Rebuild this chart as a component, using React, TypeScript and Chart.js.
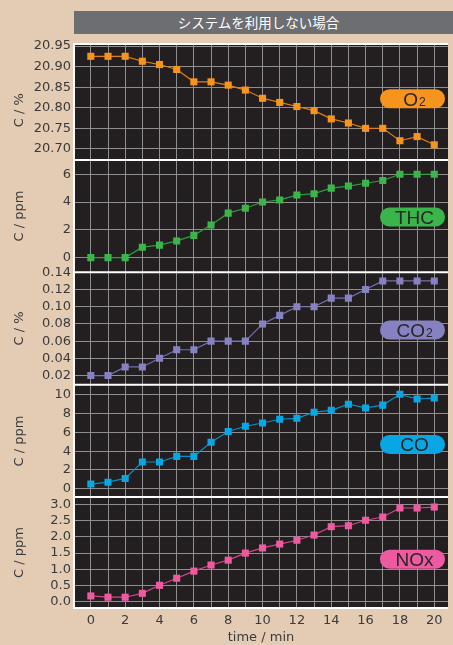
import React, { useEffect, useRef } from 'react';
import { Chart, registerables } from 'chart.js';

Chart.register(...registerables);

// Sampling times (min)
const minutes = [0, 1, 2, 3, 4, 5, 6, 7, 8, 9, 10, 11, 12, 13, 14, 15, 16, 17, 18, 19, 20];

// Measured concentrations
const o2Values = [20.925, 20.925, 20.925, 20.913, 20.905, 20.893, 20.863, 20.863, 20.855, 20.843, 20.823, 20.813, 20.803, 20.793, 20.773, 20.763, 20.75, 20.75, 20.72, 20.73, 20.71];
const thcValues = [0, 0, 0, 0.75, 0.9, 1.2, 1.6, 2.35, 3.2, 3.55, 4.0, 4.15, 4.5, 4.6, 5.0, 5.15, 5.35, 5.55, 6.0, 6.0, 6.0];
const co2Values = [0.02, 0.02, 0.03, 0.03, 0.04, 0.05, 0.05, 0.06, 0.06, 0.06, 0.08, 0.09, 0.1, 0.1, 0.11, 0.11, 0.12, 0.13, 0.13, 0.13, 0.13];
const coValues = [0.5, 0.7, 1.1, 2.85, 2.85, 3.45, 3.45, 4.95, 6.1, 6.65, 7.0, 7.4, 7.5, 8.15, 8.35, 9.0, 8.6, 8.9, 10.05, 9.55, 9.65];
const noxValues = [0.17, 0.13, 0.13, 0.25, 0.5, 0.72, 0.94, 1.13, 1.28, 1.5, 1.66, 1.78, 1.9, 2.06, 2.32, 2.35, 2.52, 2.62, 2.9, 2.9, 2.93];

// Tick values
const minuteTicks = [0, 1, 2, 3, 4, 5, 6, 7, 8, 9, 10, 11, 12, 13, 14, 15, 16, 17, 18, 19, 20];
const o2Ticks = [20.7, 20.75, 20.8, 20.85, 20.9, 20.95];
const thcTicks = [0, 2, 4, 6];
const co2Ticks = [0.02, 0.04, 0.06, 0.08, 0.1, 0.12, 0.14];
const coTicks = [0, 2, 4, 6, 8, 10];
const noxTicks = [0, 0.5, 1, 1.5, 2, 2.5, 3];

const TITLE = 'システムを利用しない場合';
const X_TITLE = 'time / min';

const BG = '#e3cbb4';
const PLOT_BG = '#231f20';
const GRID = '#8e8e8e';
const TEXT = '#3b3b3b';
const TICK_FONT = { family: '"DejaVu Sans", sans-serif', size: 13 };

type Panel = {
  id: string;
  label: string;
  sub: string;
  title: string;
  values: number[];
  ticks: number[];
  min: number;
  max: number;
  decimals: number;
  color: string;
  line: string;
  weight: number;
  pillPos: number;
};

// Panels listed top to bottom
const panels: Panel[] = [
  { id: 'yO2', label: 'O', sub: '2', title: 'C / %    ', values: o2Values, ticks: o2Ticks, min: 20.6733, max: 20.9549, decimals: 2, color: '#f7941d', line: '#d9821a', weight: 116, pillPos: 0.472 },
  { id: 'yTHC', label: 'THC', sub: '', title: 'C / ppm', values: thcValues, ticks: thcTicks, min: -1.05, max: 7.03, decimals: 0, color: '#3ab54a', line: '#2f9c3e', weight: 112.3, pillPos: 0.509 },
  { id: 'yCO2', label: 'CO', sub: '2', title: 'C / %', values: co2Values, ticks: co2Ticks, min: 0.0092, max: 0.1402, decimals: 2, color: '#8681c0', line: '#7570b0', weight: 112.7, pillPos: 0.514 },
  { id: 'yCO', label: 'CO', sub: '', title: 'C / ppm', values: coValues, ticks: coTicks, min: -0.88, max: 11.06, decimals: 0, color: '#08a6e2', line: '#0a8fc4', weight: 112.3, pillPos: 0.532 },
  { id: 'yNOx', label: 'NOx', sub: '', title: 'C / ppm', values: noxValues, ticks: noxTicks, min: -0.205, max: 3.24, decimals: 1, color: '#ee5aa0', line: '#d4468a', weight: 111, pillPos: 0.56 },
];

const panelPlugin = {
  id: 'gasPanels',
  beforeDraw(chart: any) {
    const { ctx, chartArea } = chart;
    ctx.save();
    ctx.fillStyle = PLOT_BG;
    ctx.fillRect(chartArea.left, chartArea.top, chartArea.right - chartArea.left, chartArea.bottom - chartArea.top);
    ctx.restore();
  },
  beforeDatasetsDraw(chart: any) {
    const { ctx, chartArea } = chart;
    ctx.save();
    ctx.strokeStyle = '#ffffff';
    ctx.lineWidth = 2;
    ctx.beginPath();
    panels.forEach((p) => {
      const s = chart.scales[p.id];
      ctx.moveTo(chartArea.left, s.top);
      ctx.lineTo(chartArea.right, s.top);
    });
    ctx.moveTo(chartArea.left, chartArea.bottom);
    ctx.lineTo(chartArea.right, chartArea.bottom);
    ctx.moveTo(chartArea.left, chartArea.top - 1);
    ctx.lineTo(chartArea.left, chartArea.bottom + 1);
    ctx.stroke();
    ctx.restore();
  },
  afterDatasetsDraw(chart: any) {
    const { ctx, chartArea } = chart;
    const w = 65;
    const h = 19;
    const x = chartArea.right - 3 - w;
    ctx.save();
    panels.forEach((p) => {
      const s = chart.scales[p.id];
      const cy = s.top + p.pillPos * (s.bottom - s.top);
      ctx.fillStyle = p.color;
      ctx.beginPath();
      ctx.roundRect(x, cy - h / 2, w, h, h / 2);
      ctx.fill();

      const mainFont = '19px "Liberation Sans", Arial, sans-serif';
      const subFont = '12px "Liberation Sans", Arial, sans-serif';
      ctx.font = mainFont;
      const w1 = ctx.measureText(p.label).width;
      ctx.font = subFont;
      const w2 = p.sub ? ctx.measureText(p.sub).width + 1 : 0;
      const start = x + w / 2 + 2 - (w1 + w2) / 2;
      const baseline = cy + 6.9;
      ctx.fillStyle = '#2a2626';
      ctx.textAlign = 'left';
      ctx.textBaseline = 'alphabetic';
      ctx.font = mainFont;
      ctx.fillText(p.label, start, baseline);
      if (p.sub) {
        ctx.font = subFont;
        ctx.fillText(p.sub, start + w1 + 1, baseline);
      }
    });
    ctx.restore();
  },
};

export default function App() {
  const canvasRef = useRef<HTMLCanvasElement | null>(null);

  useEffect(() => {
    const canvas = canvasRef.current;
    if (!canvas) return;

    const datasets = panels.map((p) => ({
      label: p.label + p.sub,
      data: minutes.map((m, i) => ({ x: m, y: p.values[i] })),
      yAxisID: p.id,
      xAxisID: 'x',
      borderColor: p.line,
      borderWidth: 1.2,
      backgroundColor: p.color,
      pointStyle: 'rect' as const,
      pointRadius: 5,
      pointBorderWidth: 0,
      pointBackgroundColor: p.color,
      tension: 0,
      fill: false,
    }));

    const scales: any = {
      x: {
        type: 'linear',
        min: -0.98,
        max: 20.8,
        afterBuildTicks: (s: any) => {
          s.ticks = minuteTicks.map((v) => ({ value: v }));
        },
        afterFit: (s: any) => {
          s.height = 37;
        },
        grid: { color: GRID, lineWidth: 1, drawTicks: false },
        border: { display: false },
        ticks: {
          autoSkip: false,
          maxRotation: 0,
          padding: 5,
          color: TEXT,
          font: TICK_FONT,
          callback: (v: any) => (Number(v) % 2 === 0 ? String(v) : ''),
        },
        title: { display: true, text: X_TITLE, color: TEXT, font: TICK_FONT, padding: 0 },
      },
    };

    // Stacked left axes are laid out with the last-defined one on top,
    // so they are registered bottom panel first.
    [...panels].reverse().forEach((p) => {
      scales[p.id] = {
        type: 'linear',
        position: 'left',
        stack: 'gas',
        stackWeight: p.weight,
        min: p.min,
        max: p.max,
        afterBuildTicks: (s: any) => {
          s.ticks = p.ticks.map((v) => ({ value: v }));
        },
        afterFit: (s: any) => {
          s.width = 74;
        },
        grid: { color: GRID, lineWidth: 1, drawTicks: false },
        border: { display: false },
        ticks: {
          autoSkip: false,
          padding: 3,
          color: TEXT,
          font: TICK_FONT,
          callback: (v: any) => Number(v).toFixed(p.decimals),
        },
        title: { display: true, text: p.title, color: TEXT, font: TICK_FONT, padding: { top: 12, bottom: 0 } },
      };
    });

    const chart = new Chart(canvas, {
      type: 'line',
      data: { datasets },
      options: {
        animation: false,
        responsive: false,
        maintainAspectRatio: false,
        layout: { padding: { top: 44, left: 0, right: 0, bottom: 0 } },
        plugins: { legend: { display: false }, tooltip: { enabled: false } },
        scales,
      },
      plugins: [panelPlugin],
    });

    return () => chart.destroy();
  }, []);

  return (
    <div style={{ position: 'absolute', left: 0, top: 0, width: 453, height: 645, background: BG, overflow: 'hidden' }}>
      <div
        style={{
          position: 'absolute',
          left: 74,
          top: 11,
          width: 379,
          height: 23,
          background: '#6d6e72',
          color: '#ffffff',
          fontFamily: '"Noto Sans CJK JP", sans-serif',
          fontSize: 13.5,
          lineHeight: '23px',
          textAlign: 'center',
          paddingRight: 10,
          boxSizing: 'border-box',
        }}
      >
        {TITLE}
      </div>
      <canvas ref={canvasRef} width={453} height={645} style={{ position: 'absolute', left: 0, top: 0, display: 'block' }} />
    </div>
  );
}
